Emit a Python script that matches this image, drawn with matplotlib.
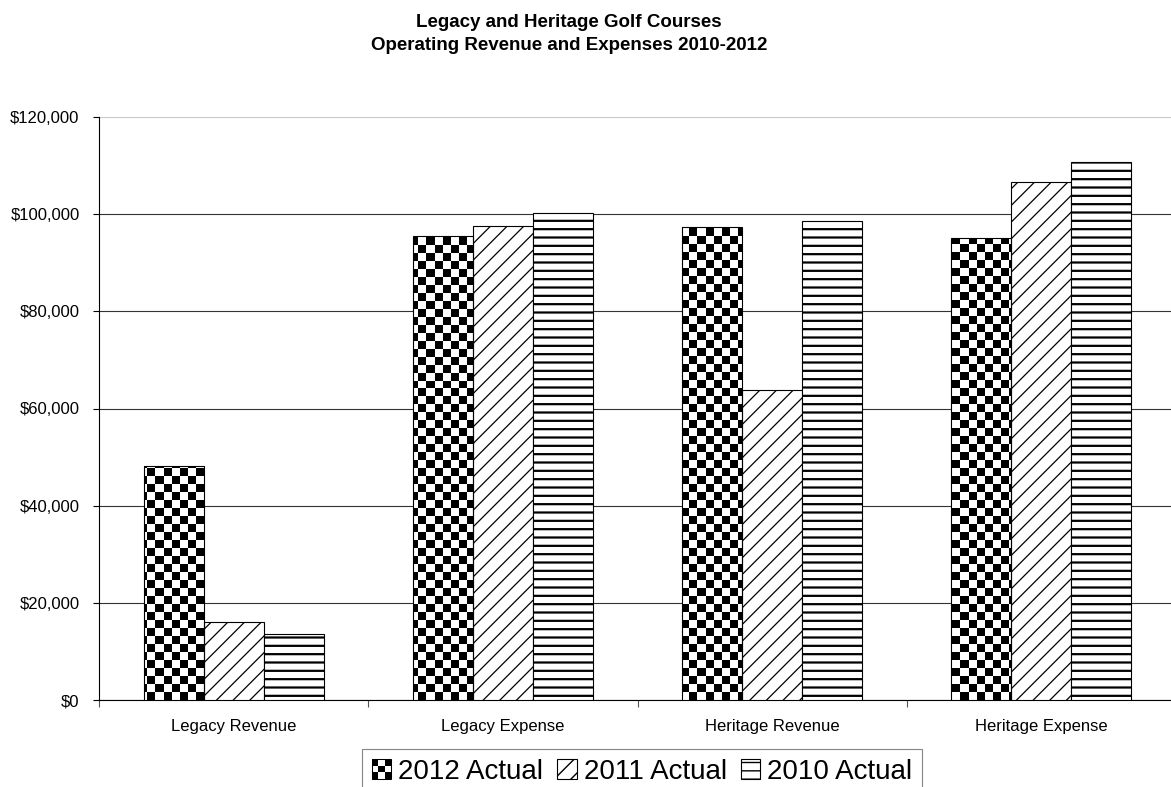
import numpy as np
import matplotlib
matplotlib.use('Agg')
import matplotlib.pyplot as plt
from matplotlib.patches import Rectangle

categories = ['Legacy Revenue', 'Legacy Expense', 'Heritage Revenue', 'Heritage Expense']
series_names = ['2012 Actual', '2011 Actual', '2010 Actual']
actual_2012 = [48150, 95500, 97400, 95000]
actual_2011 = [16100, 97500, 63800, 106700]
actual_2010 = [13500, 100300, 98600, 110800]
yticks = [0, 20000, 40000, 60000, 80000, 100000, 120000]

plt.rcParams['font.family'] = ['Liberation Sans', 'DejaVu Sans']


class CheckerHandler:
    # small checkerboard square for the legend
    def legend_artist(self, legend, orig_handle, fontsize, handlebox):
        x0, y0 = -handlebox.xdescent, -handlebox.ydescent
        w, h = handlebox.width, handlebox.height
        n = 3
        tr = handlebox.get_transform()
        for i in range(n):
            for j in range(n):
                if (i + j) % 2 == 0:
                    handlebox.add_artist(Rectangle((x0 + i * w / n, y0 + j * h / n), w / n, h / n,
                                                   facecolor='black', lw=0, transform=tr))
        frame = Rectangle((x0, y0), w, h, facecolor='none', edgecolor='black', lw=0.75, transform=tr)
        handlebox.add_artist(frame)
        return frame


W, H = 1171, 787
fig = plt.figure(figsize=(W / 100, H / 100), dpi=100)
ax_l, ax_r, ax_t, ax_b = 99, 1176, 117, 700
ax = fig.add_axes([ax_l / W, 1 - ax_b / H, (ax_r - ax_l) / W, (ax_b - ax_t) / H])

x = np.arange(len(categories))
bw = 0.223

# checkerboard texture, 8 px cells, clipped to the 2012 bars
ncols = int(round((ax_r - ax_l) / 8))
nrows = int(round((ax_b - ax_t) / 8))
checker = (np.add.outer(np.arange(nrows), np.arange(ncols)) % 2).astype(float)

b2012 = ax.bar(x - bw, actual_2012, bw, facecolor='none', edgecolor='black', lw=0.8, zorder=4)
for bar in b2012:
    im = ax.imshow(checker, cmap='gray', vmin=0, vmax=1, interpolation='nearest',
                   extent=(0, 1, 0, 1), transform=ax.transAxes, aspect='auto', zorder=3)
    im.set_clip_path(bar)

with plt.rc_context({'hatch.linewidth': 0.9, 'hatch.color': '#333333'}):
    b2011 = ax.bar(x, actual_2011, bw, facecolor='white', edgecolor='black', lw=0.8,
                   hatch='//', zorder=3)
with plt.rc_context({'hatch.linewidth': 1.6, 'hatch.color': 'black'}):
    b2010 = ax.bar(x + bw, actual_2010, bw, facecolor='white', edgecolor='black', lw=0.8,
                   hatch='--', zorder=3)

ax.set_xlim(-0.5, 3.5)
ax.set_ylim(0, 120000)
ax.set_yticks(yticks)
ax.set_yticklabels(['${:,}'.format(v) for v in yticks])
ax.set_xticks(x)
ax.set_xticklabels(categories)
ax.set_xticks([-0.5, 0.5, 1.5, 2.5, 3.5], minor=True)

ax.tick_params(axis='y', length=4, width=0.8, pad=10, labelsize=12, color='black')
ax.tick_params(axis='x', which='major', length=0, pad=14, labelsize=12)
ax.tick_params(axis='x', which='minor', length=5, width=0.8, color='#555555')

ax.grid(axis='y', color='#333333', lw=0.8, zorder=1)
ax.set_axisbelow(True)
ax.get_ygridlines()[-1].set_color('#c8c8c8')
for s in ['top', 'right']:
    ax.spines[s].set_visible(False)
ax.spines['left'].set_linewidth(0.8)
ax.spines['bottom'].set_linewidth(0.8)

fig.text(569 / W, 1 - 14 / H, 'Legacy and Heritage Golf Courses\nOperating Revenue and Expenses 2010-2012',
         ha='center', va='top', fontsize=13.5, fontweight='bold', linespacing=1.5)

leg = fig.legend([b2012[0], b2011[0], b2010[0]], series_names, ncol=3,
                 loc='upper center', bbox_to_anchor=(642 / W, 1 - 749 / H),
                 bbox_transform=fig.transFigure, borderaxespad=0,
                 fontsize=20, handlelength=0.7, handleheight=0.7, handletextpad=0.25,
                 columnspacing=0.5, borderpad=0.35, fancybox=False,
                 handler_map={b2012[0]: CheckerHandler()})
leg.get_frame().set_edgecolor('#666666')
leg.get_frame().set_linewidth(0.8)

fig.savefig('out.png', dpi=100)
